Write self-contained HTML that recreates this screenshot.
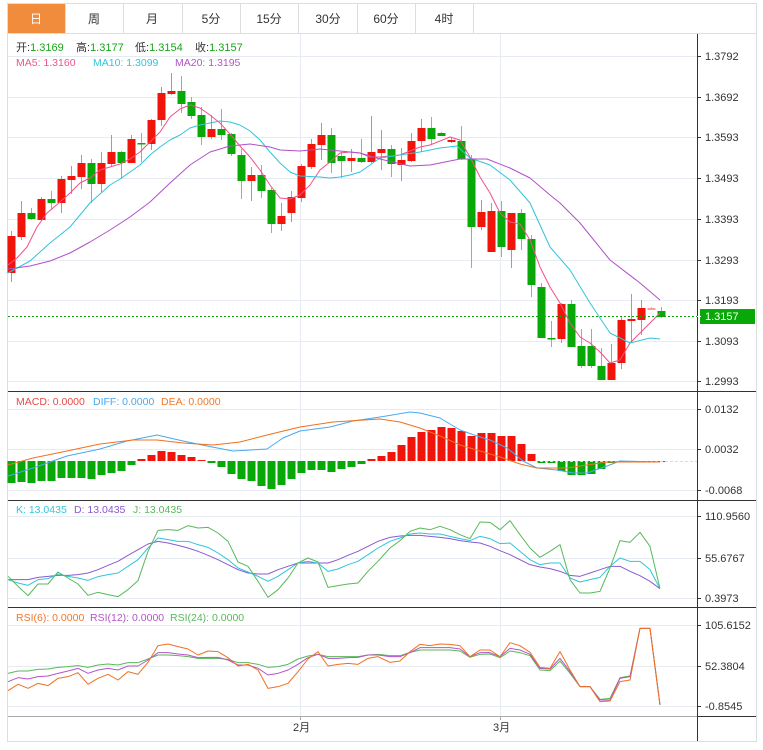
<!DOCTYPE html>
<html><head><meta charset="utf-8">
<style>
body{margin:0;background:#fff;font-family:"Liberation Sans","Noto Sans CJK SC",sans-serif;}
#wrap{position:relative;width:763px;height:750px;overflow:hidden;}
svg text{font-family:"Liberation Sans","Noto Sans CJK SC",sans-serif;}
</style></head><body>
<div id="wrap">
<svg id="s" width="763" height="750" xmlns="http://www.w3.org/2000/svg">
<rect x="0" y="0" width="763" height="750" fill="#fff"/>
<rect x="7.5" y="3.5" width="749" height="738" fill="none" stroke="#ddd"/>
<rect x="8" y="4" width="57" height="29" fill="#f08c3c"/>
<g stroke="#ddd"><line x1="65.5" y1="4" x2="65.5" y2="33"/><line x1="123.5" y1="4" x2="123.5" y2="33"/><line x1="182.5" y1="4" x2="182.5" y2="33"/><line x1="240.5" y1="4" x2="240.5" y2="33"/><line x1="298.5" y1="4" x2="298.5" y2="33"/><line x1="357.5" y1="4" x2="357.5" y2="33"/><line x1="415.5" y1="4" x2="415.5" y2="33"/><line x1="473.5" y1="4" x2="473.5" y2="33"/><line x1="8" y1="33.5" x2="756" y2="33.5"/></g>
<g font-size="12" fill="#333" text-anchor="middle">
<text x="36" y="23" fill="#fff">日</text><text x="94" y="23">周</text><text x="152" y="23">月</text><text x="211" y="23">5分</text><text x="269" y="23">15分</text><text x="328" y="23">30分</text><text x="386" y="23">60分</text><text x="444" y="23">4时</text>
</g>
<g id="grid"></g>
<g id="plot"></g>
<g font-size="11">
<text x="16" y="51" fill="#333">开:<tspan fill="#1aa31a">1.3169</tspan></text>
<text x="76" y="51" fill="#333">高:<tspan fill="#1aa31a">1.3177</tspan></text>
<text x="135" y="51" fill="#333">低:<tspan fill="#1aa31a">1.3154</tspan></text>
<text x="195" y="51" fill="#333">收:<tspan fill="#1aa31a">1.3157</tspan></text>
</g>
<g font-size="10.5">
<text x="16" y="66" fill="#e8588a">MA5: 1.3160</text><text x="93" y="66" fill="#2ec8dc">MA10: 1.3099</text><text x="175" y="66" fill="#b455c8">MA20: 1.3195</text>
<text x="16" y="405" fill="#e84a4a">MACD: 0.0000</text><text x="93" y="405" fill="#4aa8f0">DIFF: 0.0000</text><text x="161" y="405" fill="#f07828">DEA: 0.0000</text>
<text x="16" y="513" fill="#2ec8dc">K: 13.0435</text><text x="74" y="513" fill="#8a5ad0">D: 13.0435</text><text x="133" y="513" fill="#5ab85a">J: 13.0435</text>
<text x="16" y="621" fill="#f07828">RSI(6): 0.0000</text><text x="90" y="621" fill="#b455c8">RSI(12): 0.0000</text><text x="170" y="621" fill="#5ab85a">RSI(24): 0.0000</text>
</g>
</svg>
</div>
<script>
var NS="http://www.w3.org/2000/svg",S=document.getElementById('s'),G=document.getElementById('grid'),P=document.getElementById('plot');
function el(p,t,a){var e=document.createElementNS(NS,t);for(var k in a)e.setAttribute(k,a[k]);p.appendChild(e);return e;}
function txt(p,x,y,s,a){var e=el(p,'text',Object.assign({x:x,y:y,'font-size':11,fill:'#333'},a||{}));e.textContent=s;return e;}
var hg=[56,97,137,178,219,260,300,341,381,409,449,490,516,558,598,625,666,706];
hg.forEach(function(y){el(G,'line',{x1:8,x2:697,y1:y+.5,y2:y+.5,stroke:'#e6ecf2'});});
[300,500].forEach(function(x){el(G,'line',{x1:x+.5,x2:x+.5,y1:34,y2:716,stroke:'#e6ecf2'});});
el(G,'line',{x1:7.5,x2:7.5,y1:34,y2:741,stroke:'#ddd'});
el(G,'line',{x1:697.5,x2:697.5,y1:34,y2:741,stroke:'#333'});
[391,500,607].forEach(function(y){el(G,'line',{x1:8,x2:756,y1:y+.5,y2:y+.5,stroke:'#333'});});
el(G,'line',{x1:8,x2:697,y1:716.5,y2:716.5,stroke:'#aaa'});
el(G,'line',{x1:697,x2:756,y1:716.5,y2:716.5,stroke:'#333'});
el(G,'line',{x1:300.5,x2:300.5,y1:716,y2:720,stroke:'#aaa'});el(G,'line',{x1:500.5,x2:500.5,y1:716,y2:720,stroke:'#aaa'});
txt(G,293,731,'2月');txt(G,493,731,'3月');
var labs=[[56,'1.3792'],[97,'1.3692'],[137,'1.3593'],[178,'1.3493'],[219,'1.3393'],[260,'1.3293'],[300,'1.3193'],[341,'1.3093'],[381,'1.2993'],[409,'0.0132'],[449,'0.0032'],[490,'-0.0068'],[516,'110.9560'],[558,'55.6767'],[598,'0.3973'],[625,'105.6152'],[666,'52.3804'],[706,'-0.8545']];
labs.forEach(function(l){el(G,'line',{x1:697,x2:701,y1:l[0]+.5,y2:l[0]+.5,stroke:'#333'});txt(G,705,l[0]+4,l[1]);});
var C=[['r',236,273,231,282],['r',213,237,201,240],['g',213,219,208,220],['r',199,220,197,221],['g',199,203,191,210],['r',179,203,176,213],['r',176,180,166,194],['r',163,177,155,189],['g',163,184,159,203],['r',163,184,152,192],['r',152,164,135,167],['g',152,163,151,179],['r',139,163,135,163],['g',143,144,133,162],['r',120,144,119,150],['r',93,120,87,126],['r',91,94,73,95],['g',91,104,76,113],['g',102,116,97,119],['g',115,137,107,145],['r',129,137,115,139],['g',129,135,109,140],['g',134,154,133,156],['g',155,181,149,199],['r',175,181,167,201],['g',175,191,165,198],['g',190,224,188,233],['r',216,224,203,231],['r',197,213,191,222],['r',166,198,164,202],['r',144,167,139,169],['r',135,145,123,160],['g',135,163,128,173],['g',156,161,152,178],['r',158,161,149,172],['g',158,162,139,163],['r',152,162,116,163],['r',149,153,130,170],
['g',149,164,145,177],['r',160,165,148,181],['r',141,161,133,162],['r',128,141,119,152],['g',128,139,117,145],['g',133,136,132,136],['r',140,142,137,143],['g',141,159,126,160],['g',159,227,155,268],['r',212,227,200,230],['r',211,252,203,252],['g',211,247,201,257],['r',213,250,213,268],['g',213,239,209,250],['g',239,285,235,297],['g',287,338,283,338],['g',338,339,321,347],['r',304,339,303,343],['g',304,347,300,347],['g',346,366,329,368],['g',346,366,329,368],['g',366,380,348,380],['r',363,380,344,380],['r',320,363,317,369],['r',319,321,294,343],['r',308,320,300,335],['p',308,310,307,310],['g',311,317,307,318]];
C.forEach(function(c,i){var x=11+10*i;var col=c[0]=='r'?'#f0140a':c[0]=='g'?'#08a808':'#f4a0a0';var wc=c[0]=='r'?'#f47a72':c[0]=='g'?'#6ccf6c':'#f4a0a0';
el(P,'line',{x1:x+.5,x2:x+.5,y1:c[3],y2:c[4],stroke:wc});el(P,'rect',{x:x-3.5,y:c[1],width:8,height:Math.max(1.5,c[2]-c[1]),fill:col});});
function pl(pts,col,w){el(P,'polyline',{points:pts.map(function(p){return p[0]+','+p[1]}).join(' '),fill:'none',stroke:col,'stroke-width':w||1,'stroke-linejoin':'round'});}
pl([[8,265],[17,258],[27,247],[37,227],[47,213],[60,202],[70,193],[80,183],[90,178],[100,170],[110,167],[120,164],[130,159],[140,152],[150,142],[160,132],[170,117],[180,109],[190,105],[200,108],[210,115],[220,123],[230,134],[240,146],[250,157],[260,170],[270,185],[280,198],[290,199],[300,195],[310,185],[320,170],[330,162],[340,153],[350,152],[360,153],[370,157],[380,157],[400,155],[420,147],[430,145],[450,137],[460,140],[470,157],[480,177],[490,193],[500,213],[510,222],[520,224],[530,240],[540,267],[550,287],[560,303],[570,323],[580,337],[590,343],[600,352],[610,363],[620,360],[630,343],[640,333],[650,323],[660,313]],'#f0508a');
pl([[8,273],[30,261],[50,243],[70,227],[90,203],[110,185],[120,179],[130,172],[140,165],[150,155],[160,147],[170,140],[180,135],[190,128],[200,125],[210,123],[220,121],[230,122],[240,125],[250,131],[260,140],[270,152],[280,163],[290,172],[300,176],[320,177],[330,178],[340,177],[350,175],[360,172],[370,165],[380,158],[400,155],[420,152],[440,148],[457,146],[470,158],[490,165],[510,180],[530,203],[550,247],[570,270],[590,303],[610,333],[630,343],[650,338],[660,339]],'#30c4dc');
pl([[8,269],[30,266],[50,261],[70,253],[90,242],[110,230],[130,217],[150,202],[170,183],[190,165],[210,152],[230,146],[250,144],[270,147],[280,150],[300,151],[320,149],[340,151],[360,153],[380,159],[410,166],[430,165],[460,159],[487,159],[510,168],[530,178],[550,195],[560,203],[580,223],[610,260],[640,283],[660,300]],'#b050c8');
el(P,'line',{x1:8,x2:697,y1:316.5,y2:316.5,stroke:'#10a010','stroke-dasharray':'2,2'});
el(P,'rect',{x:700,y:309,width:55,height:15,fill:'#08a808'});
txt(P,705,320,'1.3157',{fill:'#fff'});
el(P,'line',{x1:697,x2:701,y1:316.5,y2:316.5,stroke:'#fff'});
var H=[483,482,483,481,481,478,478,478,479,475,473,471,465,459,455,451,452,455,457,460,463,467,474,479,481,486,489,485,479,473,470,470,472,469,467,464,459,456,452,445,437,432,430,427,428,431,436,433,433,436,436,444,454,463,463,471,475,475,474,469,463,462,462,461,461,461];
var B=461;
H.forEach(function(h,i){var x=11+10*i;var up=h<B;var col=up?'#f0140a':'#08a808';var y=up?h:B,hh=Math.abs(h-B);if(hh<1)hh=1;el(P,'rect',{x:x-3.5,y:y,width:8,height:hh,fill:col});});
el(P,'line',{x1:540,x2:697,y1:461.5,y2:461.5,stroke:'#bfe4f4','stroke-dasharray':'3,2'});
pl([[8,476],[33,468],[67,456],[100,449],[127,441],[157,435],[183,441],[207,446],[233,451],[267,449],[283,438],[300,431],[330,427],[353,421],[380,417],[410,412],[420,413],[440,418],[460,430],[477,436],[490,440],[507,448],[523,461],[537,468],[557,470],[573,473],[587,473],[607,466],[620,461],[660,462]],'#4aa8f0');
pl([[8,465],[33,458],[67,451],[100,444],[133,440],[157,440],[183,443],[213,445],[240,442],[267,435],[300,427],[333,422],[380,419],[400,422],[420,428],[440,436],[460,445],[480,451],[500,457],[520,464],[537,468],[567,468],[587,465],[607,462],[660,462]],'#f07020');
function z(L,R,y0){var pts=[];L.forEach(function(v,k){pts.push([8+10*k,y0+v/3]);});R.forEach(function(v,k){if(k>0)pts.push([380+10*k,y0+v/3]);});return pts;}
pl(z([245,245,245,238,235,232,232,230,225,215,202,190,172,155,138,130,135,142,150,160,172,185,200,215,225,228,228,215,205,195,195,195,195,185,172,160,145,130],[130,118,114,112,112,115,118,122,128,132,135,145,158,170,185,200,207,212,220,232,235,225,215,205,205,220,233,250,272],498),'#8a5ad0');
pl(z([245,255,262,245,242,228,235,240,247,236,230,225,205,185,150,120,125,130,130,140,148,165,185,210,222,235,250,235,215,195,190,195,220,213,200,190,170,150],[148,130,120,108,105,108,108,115,122,128,115,122,137,135,160,185,200,195,195,240,252,245,238,205,180,190,190,215,272],498),'#30c4dc');
pl(z([235,265,293,258,258,222,240,258,292,283,290,296,275,248,160,97,95,97,83,90,88,105,130,192,205,250,298,275,240,195,180,192,268,263,258,255,220,190],[190,150,128,100,90,95,85,95,110,122,72,73,95,68,110,150,178,160,140,245,285,285,280,210,128,133,103,145,272],498),'#5ab85a');
pl(z([205,198,198,193,192,187,185,182,187,180,177,180,173,173,162,150,150,152,155,160,160,160,163,173,173,178,187,185,178,162,153,148,155,155,155,155,150,148],[148,152,152,142,135,135,135,135,138,157,148,147,158,138,143,152,195,197,168,205,245,245,283,280,218,213,70,70,300],605),'#5ab85a');
pl(z([230,218,222,215,213,205,198,190,205,195,190,195,183,183,165,143,143,147,150,158,157,157,165,180,180,190,210,205,195,178,158,148,160,160,158,157,150,150],[150,155,155,143,128,128,128,128,132,155,143,143,155,130,135,148,190,192,160,200,245,245,285,285,220,215,70,70,300],605),'#b455c8');
pl(z([257,238,250,235,242,220,215,203,238,220,208,225,200,208,172,122,117,125,132,150,138,140,158,183,178,195,250,245,235,200,162,140,183,178,175,178,160,155],[155,172,168,140,118,122,117,118,122,155,135,135,155,113,122,142,187,190,140,195,245,245,290,288,230,225,70,70,300],605),'#f07020');
</script>
</body></html>
